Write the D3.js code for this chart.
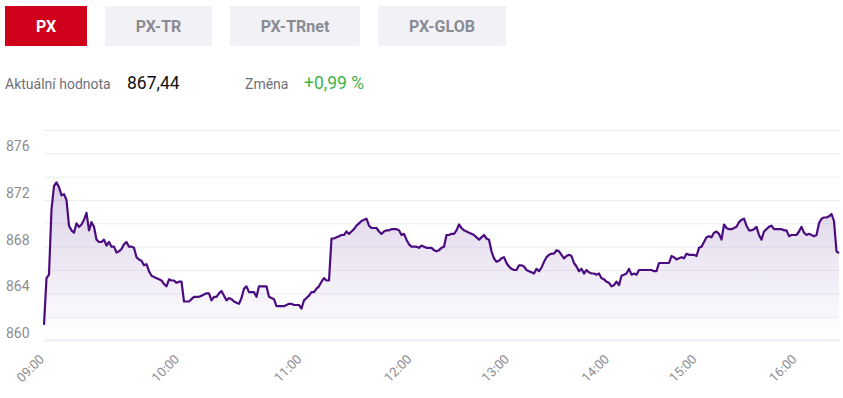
<!DOCTYPE html>
<html><head><meta charset="utf-8">
<script src="https://cdn.jsdelivr.net/npm/d3@7"></script>
<style>
html,body{margin:0;padding:0;background:#fff;}
svg{display:block;font-family:Roboto,"Noto Sans",Arial,sans-serif;}
</style></head>
<body>
<svg id="chart" width="843" height="398"></svg>
<script>
// ---- data ----
const tabs = ["PX", "PX-TR", "PX-TRnet", "PX-GLOB"];
const activeTab = "PX";
const currentLabel = "Aktuální hodnota";
const currentValue = "867,44";
const changeLabel = "Změna";
const changeValue = "+0,99 %";
const yTicks = [860, 864, 868, 872, 876];
const yGrid = [860, 862, 864, 866, 868, 870, 872, 874, 876, 878];
const hourLabels = ["09:00", "10:00", "11:00", "12:00", "13:00", "14:00", "15:00", "16:00"];
const hourIndex = [0, 54, 103, 147, 186, 226, 261, 301];
const values = [
861.3,865.3,865.6,871.2,873.2,873.5,873.1,872.4,872.5,872.0,
869.8,869.4,869.2,870.0,869.7,869.9,870.3,870.9,869.4,870.1,
869.7,868.6,868.4,868.4,868.6,868.1,868.4,868.0,868.0,867.5,
867.6,867.8,868.2,868.4,868.0,868.0,867.9,867.1,866.9,866.8,
866.4,866.5,865.9,865.5,865.4,865.3,865.2,865.1,864.8,864.6,
865.2,865.1,865.1,864.9,865.0,865.0,863.3,863.3,863.3,863.5,
863.7,863.7,863.7,863.8,863.9,864.0,864.0,863.4,863.7,863.7,
864.0,864.2,863.8,863.4,863.6,863.5,863.3,863.2,863.1,863.6,
864.4,864.6,864.1,864.1,864.1,863.7,864.6,864.6,864.6,864.6,
863.7,863.6,863.5,862.9,862.9,862.9,862.9,863.0,863.1,863.1,
863.0,863.0,863.0,862.7,863.4,863.6,863.8,864.1,864.1,864.4,
864.6,865.0,865.3,865.1,865.1,868.7,868.7,868.8,868.9,869.0,
869.0,869.3,869.1,869.3,869.5,869.8,870.0,870.2,870.3,870.4,
869.8,869.6,869.6,869.6,869.3,869.1,869.3,869.4,869.4,869.5,
869.5,869.5,869.4,869.0,869.1,868.6,868.2,868.0,868.0,868.0,
867.9,868.1,868.0,867.9,867.9,867.9,867.7,867.6,867.7,867.9,
868.0,869.0,869.0,869.1,869.1,869.4,869.9,869.6,869.4,869.3,
869.2,869.1,869.0,868.8,868.6,868.8,869.0,868.7,868.6,867.6,
867.0,866.7,866.8,867.0,867.1,866.6,866.3,866.1,866.0,866.0,
866.4,866.4,866.3,866.0,865.9,865.8,865.7,866.1,865.9,866.2,
866.7,867.1,867.3,867.4,867.4,867.7,867.6,867.3,867.0,867.2,
867.3,867.2,866.6,866.3,865.9,866.1,865.7,866.0,865.8,865.7,
865.7,865.6,865.7,865.3,865.2,865.0,864.9,864.6,864.7,865.0,
864.7,865.5,865.6,865.7,866.1,865.6,865.7,865.6,866.0,866.0,
866.0,866.0,866.0,866.0,865.9,865.9,866.6,866.6,866.6,866.6,
866.6,867.2,867.1,866.9,867.0,867.1,867.0,867.4,867.3,867.3,
867.3,867.2,867.9,868.0,868.4,868.8,868.9,868.8,869.2,869.3,
869.1,868.6,869.9,869.6,869.5,869.5,869.6,869.7,870.1,870.3,
870.4,869.8,869.4,869.4,869.5,869.7,869.0,868.6,869.3,869.5,
869.7,869.8,869.5,869.5,869.5,869.5,869.4,869.4,868.9,869.0,
869.0,869.0,869.3,869.7,869.2,869.0,869.1,869.0,868.9,869.0,
870.0,870.4,870.5,870.5,870.6,870.8,870.2,867.6,867.44
];

// ---- drawing ----
const svg = d3.select("#chart");
const defs = svg.append("defs");
const grad = defs.append("linearGradient").attr("id","areaGrad")
  .attr("gradientUnits","userSpaceOnUse").attr("x1",0).attr("x2",0).attr("y1",180).attr("y2",340);
grad.append("stop").attr("offset","0%").attr("stop-color","#5c2a96").attr("stop-opacity",0.22);
grad.append("stop").attr("offset","100%").attr("stop-color","#5c2a96").attr("stop-opacity",0.0);

// tabs
const tabX = d3.scaleOrdinal().domain(tabs).range([5, 105, 230, 378]);
const tabW = d3.scaleOrdinal().domain(tabs).range([82, 107, 130, 128]);
const tg = svg.append("g").selectAll("g").data(tabs).join("g")
  .attr("transform", d => `translate(${tabX(d)},6)`);
tg.append("rect").attr("width", d => tabW(d)).attr("height", 40)
  .attr("fill", d => d === activeTab ? "#d0021b" : "#f2f2f6");
tg.append("text").attr("x", d => tabW(d)/2).attr("y", 26)
  .attr("text-anchor","middle").attr("font-size",16).attr("font-weight",700)
  .attr("fill", d => d === activeTab ? "#ffffff" : "#8a8b93").text(d => d);

// value row
svg.append("text").attr("x",5).attr("y",89).attr("font-size",14).attr("fill","#6e6f78").text(currentLabel);
svg.append("text").attr("x",127).attr("y",89).attr("font-size",17.5).attr("fill","#111").text(currentValue);
svg.append("text").attr("x",245).attr("y",89).attr("font-size",14).attr("fill","#6e6f78").text(changeLabel);
svg.append("text").attr("x",304).attr("y",89).attr("font-size",17.5).attr("fill","#3db449").text(changeValue);

// scales
const x = d3.scaleLinear().domain([0, values.length - 1]).range([44, 839]);
const y = d3.scaleLinear().domain([860, 878]).range([340, 130]);

// grid
svg.append("g").selectAll("line").data(yGrid).join("line")
  .attr("x1",44).attr("x2",840)
  .attr("y1", d => y(d) + 0.5).attr("y2", d => y(d) + 0.5)
  .attr("stroke", d => d === 860 ? "#ececf3" : "#eeeef2")
  .attr("stroke-width", d => d === 860 ? 2 : 1);

// y labels
svg.append("g").selectAll("text").data(yTicks).join("text")
  .attr("x",6).attr("y", d => y(d) - 2)
  .attr("font-size",14).attr("fill","#8c8c91").text(d => d);

// x labels
svg.append("g").selectAll("text").data(hourLabels).join("text")
  .attr("transform", (d,i) => `translate(${x(hourIndex[i]) + 1},360) rotate(-45)`)
  .attr("text-anchor","end").attr("font-size",13).attr("fill","#8c8c91").text(d => d);

// area + line
const area = d3.area().x((d,i) => x(i)).y0(y(860)).y1(d => y(d));
const line = d3.line().x((d,i) => x(i)).y(d => y(d));
svg.append("path").datum(values).attr("d", area).attr("fill","url(#areaGrad)");
svg.append("path").datum(values).attr("d", line).attr("fill","none")
  .attr("stroke","#4b0c7f").attr("stroke-width",2.2).attr("stroke-linejoin","round");
</script>
</body></html>
